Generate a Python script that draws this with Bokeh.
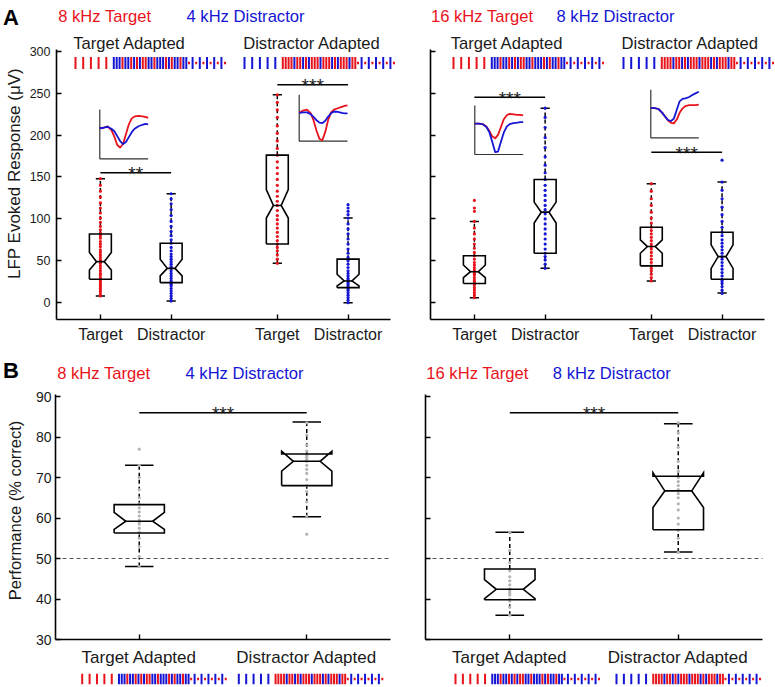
from bokeh.plotting import figure
from bokeh.models import FixedTicker, Label, Range1d
from bokeh.layouts import column, row
from bokeh.embed import file_html
from bokeh.resources import INLINE

FONT = "Liberation Sans"
RED = "#e8131b"
BLUE = "#1515d4"
INK = "#1a1a1a"
GREY_PT = "#b4b4b4"

# ------------------------------------------------------------------ data
A_POSITIONS = [1.0, 2.0, 3.5, 4.5]
A_TICK_LABELS = ["Target", "Distractor", "Target", "Distractor"]
A_TONES = ["T", "D", "T", "D"]
A_Y_TICKS = [0, 50, 100, 150, 200, 250, 300]
A_Y_BOUNDS = (-20, 302)
A_X_BOUNDS = (0.38, 5.1)

# Panel A left: 8 kHz target / 4 kHz distractor
AL_Q1 = [28, 24, 70, 18]
AL_MED = [49, 41, 116, 26]
AL_Q3 = [82, 71, 176, 52]
AL_NOTCH_LO = [39, 32, 101, 20]
AL_NOTCH_HI = [60, 52, 135, 34]
AL_WHISK_LO = [8, 2, 47, 0]
AL_WHISK_HI = [148, 130, 248, 101]
AL_PTS = [
    [8, 10, 13, 15, 17, 19, 21, 23, 25, 27, 28, 30, 33, 35, 38, 41, 44, 47, 49, 51, 54, 57, 60, 63,
     67, 70, 73, 77, 80, 83, 87, 91, 96, 101, 107, 113, 119, 126, 133, 140, 148],
    [2, 5, 8, 11, 14, 17, 20, 22, 24, 26, 29, 32, 35, 38, 41, 43, 46, 49, 52, 55, 58, 62, 66, 71,
     75, 80, 85, 91, 97, 104, 111, 118, 124, 130],
    [47, 52, 57, 62, 66, 70, 74, 79, 84, 89, 94, 99, 104, 110, 116, 121, 127, 133, 140, 147, 154,
     161, 168, 176, 184, 193, 202, 211, 221, 230, 239, 248],
    [0, 3, 6, 9, 12, 15, 17, 19, 21, 23, 25, 27, 29, 32, 35, 38, 42, 46, 50, 54, 59, 64, 70, 76,
     82, 88, 94, 101, 105, 109, 113, 117],
]
AL_SIG_X0 = [1.0, 3.5]
AL_SIG_X1 = [2.0, 4.5]
AL_SIG_Y = [155, 260]
AL_SIG_TEXT = ["**", "***"]

# Panel A right: 16 kHz target / 8 kHz distractor
AR_Q1 = [23, 59, 44, 28]
AR_MED = [37, 108, 67, 55]
AR_Q3 = [56, 147, 90, 84]
AR_NOTCH_LO = [30, 95, 59, 41]
AR_NOTCH_HI = [45, 120, 75, 69]
AR_WHISK_LO = [6, 41, 26, 11.5]
AR_WHISK_HI = [97, 232, 142, 144]
AR_PTS = [
    [6, 9, 12, 15, 18, 21, 23, 25, 27, 30, 33, 35, 37, 39, 42, 45, 48, 52, 56, 60, 65, 70, 76, 82,
     89, 97, 109, 113, 122],
    [41, 46, 51, 55, 59, 64, 70, 76, 82, 88, 94, 100, 106, 111, 116, 122, 128, 134, 140, 147, 155,
     164, 174, 185, 197, 209, 221, 232],
    [26, 30, 34, 38, 41, 44, 48, 52, 56, 60, 64, 67, 70, 74, 78, 82, 86, 90, 95, 101, 108, 116, 124,
     133, 142],
    [11, 15, 19, 23, 26, 28, 32, 36, 40, 44, 48, 52, 55, 59, 63, 67, 71, 75, 80, 84, 90, 97, 105,
     114, 124, 134, 144, 170],
]
AR_SIG_X0 = [1.0, 3.5]
AR_SIG_X1 = [2.0, 4.5]
AR_SIG_Y = [245, 179.5]
AR_SIG_TEXT = ["***", "***"]

# inset waveforms (normalised amplitude, 0 = inset floor, 1 = inset top)
WAVE_T = [0, .08, .16, .24, .30, .36, .42, .48, .54, .60, .66, .72, .80, .88, .94, 1.0]
AL_TA_WAVE_T = [.62, .63, .66, .58, .45, .28, .23, .30, .50, .70, .82, .86, .87, .86, .85, .83]
AL_TA_WAVE_D = [.62, .63, .65, .61, .56, .46, .36, .30, .34, .44, .54, .61, .66, .69, .71, .70]
AL_DA_WAVE_T = [.61, .66, .68, .60, .44, .22, .05, .02, .20, .46, .62, .68, .71, .74, .76, .77]
AL_DA_WAVE_D = [.61, .62, .62, .58, .52, .45, .40, .39, .44, .53, .60, .64, .63, .61, .60, .60]
AR_TA_WAVE_T = [.63, .63, .62, .57, .48, .37, .33, .40, .56, .72, .80, .83, .82, .81, .81, .80]
AR_TA_WAVE_D = [.63, .63, .62, .56, .46, .26, .05, .06, .26, .45, .57, .62, .64, .65, .66, .66]
AR_DA_WAVE_T = [.625, .62, .60, .52, .44, .36, .31, .30, .38, .52, .61, .66, .68, .68, .68, .69]
AR_DA_WAVE_D = [.625, .62, .60, .52, .44, .37, .35, .40, .58, .76, .81, .82, .85, .90, .93, .96]

# Panel B: behavioural performance
B_POSITIONS = [1.0, 2.0]
B_TICK_LABELS = ["Target Adapted", "Distractor Adapted"]
B_Y_TICKS = [30, 40, 50, 60, 70, 80, 90]
B_Y_BOUNDS = (30, 90.5)
B_X_BOUNDS = (0.5, 2.5)
B_CHANCE = 50
BL_Q1 = [56.3, 68.0]
BL_MED = [59.2, 74.0]
BL_Q3 = [63.3, 75.8]
BL_NOTCH_LO = [57.2, 71.6]
BL_NOTCH_HI = [61.4, 76.5]
BL_WHISK_LO = [48.0, 60.3]
BL_WHISK_HI = [73.0, 83.7]
BL_PTS = [
    [48, 50.5, 53, 55, 56.5, 57.5, 58.5, 59, 59.5, 60.5, 61.5, 62.5, 63.5, 65, 67, 70, 73, 77],
    [56, 60.5, 64, 66.5, 68, 69.5, 71, 72, 73, 74, 74.5, 75, 75.5, 76.5, 78, 80.5, 83.5],
]
BR_Q1 = [39.8, 57.1]
BR_MED = [42.4, 66.7]
BR_Q3 = [47.4, 70.3]
BR_NOTCH_LO = [40.1, 62.6]
BR_NOTCH_HI = [44.8, 71.2]
BR_WHISK_LO = [36.0, 51.6]
BR_WHISK_HI = [56.5, 83.3]
BR_PTS = [
    [36, 38, 39.5, 40, 41, 41.5, 42, 42.5, 43.5, 44.5, 45.5, 47, 49, 52, 56.5],
    [51.5, 55, 57, 58.5, 60, 62, 63.5, 65, 66, 67, 68, 69, 70, 71.5, 74, 77.5, 81, 83.5],
]
B_SIG_X0 = [1.0]
B_SIG_X1 = [2.0]
B_SIG_Y = [86]
B_SIG_TEXT = ["***"]

# stimulus sequences: R/B = target/distractor tone, upper case = full tick, lower case = short
SEQ_ADAPT_TA = "RRRRR"
SEQ_ADAPT_DA = "BBBBB"
SEQ_MIX_TA = "BBBRBBRBRBRRBBRBBBRBRBBRBB"
SEQ_MIX_DA = "RRRRBRRBRBRRRBRRRBRBRRRBRR"
SEQ_PROBE = "rBrBrBrBrBr"

# ------------------------------------------------------------------ layout (pixels)
A_PX_X = 70.77      # px per x unit, panel A
A_PX_Y = 0.8385     # px per uV, panel A
BL_PX_X = 167.5
BR_PX_X = 168.5
B_PX_Y = 4.05

# frame: (left, right, top, bottom, x_range, y_range)
FR_LA = (0, 26, 0, 349, (0, 26), (0, 349))
FR_AL = (55, 409, 0, 319, (0.38, 0.38 + 354 / A_PX_X), (-20, -20 + 319 / A_PX_Y))
FR_AR = (429, 775, 0, 319, (0.38, 0.38 + 346 / A_PX_X), (-20, -20 + 319 / A_PX_Y))
FR_LB = (0, 26, 349, 670, (0, 26), (0, 321))
FR_BL = (55, 410, 349, 639, (0.5, 0.5 + 355 / BL_PX_X), (30, 30 + 290 / B_PX_Y))
FR_BR = (425, 775, 349, 639, (0.5, 0.5 + 350 / BR_PX_X), (30, 30 + 290 / B_PX_Y))
FR_FL = (0, 410, 670, 686, (0, 410), (0, 16))
FR_FR = (410, 775, 670, 686, (410, 775), (0, 16))


def dx(fr, xi):
    x0, x1, _, _, xr, _ = fr
    return xr[0] + (xi - x0) / (x1 - x0) * (xr[1] - xr[0])


def dy(fr, yi):
    _, _, y0, y1, _, yr = fr
    return yr[0] + (y1 - yi) / (y1 - y0) * (yr[1] - yr[0])


def py(fr, pix):
    _, _, y0, y1, _, yr = fr
    return pix * (yr[1] - yr[0]) / (y1 - y0)


def make_fig(fr, bl=0, br=0, bt=0, bb=0, axes=True):
    x0, x1, y0, y1, xr, yr = fr
    kw = {}
    if not axes:
        kw = dict(x_axis_location=None, y_axis_location=None)
    p = figure(frame_width=x1 - x0, frame_height=y1 - y0,
               x_range=Range1d(*xr), y_range=Range1d(*yr),
               min_border_left=bl, min_border_right=br, min_border_top=bt, min_border_bottom=bb,
               output_backend="svg", toolbar_location=None, tools="", **kw)
    p.xgrid.visible = False
    p.ygrid.visible = False
    p.outline_line_color = None
    p.background_fill_color = "white"
    p.border_fill_color = "white"
    if axes:
        for ax in (p.xaxis[0], p.yaxis[0]):
            ax.axis_line_width = 1.6
            ax.axis_line_color = "black"
            ax.major_tick_in = 5
            ax.major_tick_out = 0
            ax.major_tick_line_width = 1.4
            ax.major_tick_line_color = "black"
            ax.minor_tick_line_color = None
            ax.major_label_text_font = FONT
            ax.major_label_text_color = INK
    return p


def text(p, x, y, s, size, color=INK, align="left", baseline="middle", style="normal", angle=0):
    p.add_layout(Label(x=x, y=y, text=s, text_font=FONT, text_font_size=size, text_color=color,
                       text_align=align, text_baseline=baseline, text_font_style=style,
                       angle=angle, angle_units="deg"))


def draw_boxes(p, pos, q1, med, q3, nlo, nhi, w, nw, lw):
    xs, ys = [], []
    for x, a, m, b, nl, nh in zip(pos, q1, med, q3, nlo, nhi):
        xs.append([x - w, x - w, x - nw, x - w, x - w, x + w, x + w, x + nw, x + w, x + w, x - w])
        ys.append([a, nl, m, nh, b, b, nh, m, nl, a, a])
    p.multi_line(xs, ys, line_color="black", line_width=lw, line_join="miter")
    p.segment(x0=[x - nw for x in pos], y0=med, x1=[x + nw for x in pos], y1=med,
              line_color="black", line_width=lw)


def draw_whiskers(p, pos, q1, q3, wlo, whi, cw, lw):
    p.segment(x0=pos, y0=q3, x1=pos, y1=whi, line_color="black", line_width=lw, line_dash="4 3")
    p.segment(x0=pos, y0=wlo, x1=pos, y1=q1, line_color="black", line_width=lw, line_dash="4 3")
    p.segment(x0=[x - cw for x in pos], y0=whi, x1=[x + cw for x in pos], y1=whi,
              line_color="black", line_width=lw)
    p.segment(x0=[x - cw for x in pos], y0=wlo, x1=[x + cw for x in pos], y1=wlo,
              line_color="black", line_width=lw)


def draw_points(p, pos, pts, colors, size):
    for x, vals, c in zip(pos, pts, colors):
        p.scatter(x=[x] * len(vals), y=vals, marker="circle", size=size, fill_color=c,
                  line_color=None)


def draw_sig(p, fr, x0s, x1s, ys, texts):
    p.segment(x0=x0s, y0=ys, x1=x1s, y1=ys, line_color="black", line_width=1.5)
    for a, b, y, s in zip(x0s, x1s, ys, texts):
        text(p, (a + b) / 2, y - py(fr, 1.0), s, "19px", align="center")


def draw_inset(p, fr, box, wave_t, wave_d):
    xl, xr_, yt, yb = box
    p.line([dx(fr, xl), dx(fr, xl), dx(fr, xr_)], [dy(fr, yt), dy(fr, yb), dy(fr, yb)],
           line_color="#333333", line_width=1.2)
    xs = [dx(fr, xl + t * (xr_ - xl)) for t in WAVE_T]
    for wave, col in ((wave_t, RED), (wave_d, BLUE)):
        ys = [dy(fr, yb - a * (yb - yt)) for a in wave]
        p.line(xs, ys, line_color=col, line_width=1.8, line_join="round")


def draw_sequence(p, fr, x_img, yc_img, adapt, mix, probe, scale, half_tall, half_short):
    items = []
    x = x_img
    for i, c in enumerate(adapt):
        if i:
            x += 7.7 * scale
        items.append((x, c))
    x += 7.5 * scale
    for i, c in enumerate(mix):
        if i:
            x += 2.9 * scale
        items.append((x, c))
    x += 2.7 * scale
    for i, c in enumerate(probe):
        if i:
            x += 3.6 * scale
        items.append((x, c))
    xs = [dx(fr, xx) for xx, _ in items]
    hs = [half_tall if c.isupper() else half_short for _, c in items]
    cols = [RED if c.lower() == "r" else BLUE for _, c in items]
    p.segment(x0=xs, y0=[dy(fr, yc_img + h) for h in hs], x1=xs,
              y1=[dy(fr, yc_img - h) for h in hs], line_color=cols, line_width=2)


TONE_COLOR = {"T": RED, "D": BLUE}


# ------------------------------------------------------------------ side columns
def side_column(fr, letter, letter_y, ylabel, ylabel_y, ylabel_size):
    p = make_fig(fr, axes=False)
    text(p, dx(fr, 2.6), dy(fr, letter_y), letter, "22px", color="black", style="bold")
    text(p, dx(fr, 14.0), dy(fr, ylabel_y), ylabel, ylabel_size, align="center", angle=90)
    return p


pLA = side_column(FR_LA, "A", 16.5, "LFP Evoked Response (\u03bcV)", 173, "17px")
pLB = side_column(FR_LB, "B", 369.7, "Performance (% correct)", 510, "16.5px")


# ------------------------------------------------------------------ panel A
def panel_a(fr, bl, stats, pts, sig, insets, show_labels, headers, seq_x):
    p = make_fig(fr, bl, 0, 0, 30)
    q1, med, q3, nlo, nhi, wlo, whi = stats
    p.xaxis.ticker = FixedTicker(ticks=A_POSITIONS)
    p.xaxis.bounds = A_X_BOUNDS
    p.xaxis.major_label_overrides = {k: v for k, v in zip(A_POSITIONS, A_TICK_LABELS)}
    p.xaxis.major_label_text_font_size = "16px"
    p.xaxis.major_label_standoff = 6
    p.yaxis.ticker = FixedTicker(ticks=A_Y_TICKS)
    p.yaxis.bounds = A_Y_BOUNDS
    if show_labels:
        p.yaxis.major_label_text_font_size = "12.5px"
        p.yaxis.major_label_standoff = 6
    else:
        p.yaxis.major_label_text_font_size = "1px"
        p.yaxis.major_label_text_color = None
        p.yaxis.major_label_standoff = 0
    draw_whiskers(p, A_POSITIONS, q1, q3, wlo, whi, 0.065, 1.5)
    draw_points(p, A_POSITIONS, pts, [TONE_COLOR[t] for t in A_TONES], 3.2)
    draw_boxes(p, A_POSITIONS, q1, med, q3, nlo, nhi, 0.155, 0.055, 1.6)
    draw_sig(p, fr, *sig)
    for box, wt, wd in insets:
        draw_inset(p, fr, box, wt, wd)
    for (xi, yi, s, col) in headers:
        text(p, dx(fr, xi), dy(fr, yi), s, "16.6px", color=col)
    draw_sequence(p, fr, seq_x[0], 62.5, SEQ_ADAPT_TA, SEQ_MIX_TA, SEQ_PROBE, 1.0, 6.0, 1.3)
    draw_sequence(p, fr, seq_x[1], 62.5, SEQ_ADAPT_DA, SEQ_MIX_DA, SEQ_PROBE, 1.0, 6.0, 1.3)
    return p


pAL = panel_a(FR_AL, 29,
              (AL_Q1, AL_MED, AL_Q3, AL_NOTCH_LO, AL_NOTCH_HI, AL_WHISK_LO, AL_WHISK_HI),
              AL_PTS, (AL_SIG_X0, AL_SIG_X1, AL_SIG_Y, AL_SIG_TEXT),
              [((98.3, 146.7, 109, 158.3), AL_TA_WAVE_T, AL_TA_WAVE_D),
               ((297.7, 346, 94.3, 140.7), AL_DA_WAVE_T, AL_DA_WAVE_D)],
              True,
              [(56.7, 15.7, "8 kHz Target", RED),
               (185, 15.7, "4 kHz Distractor", BLUE),
               (71.7, 43, "Target Adapted", INK),
               (241.7, 43, "Distractor Adapted", INK)],
              (74, 243))

pAR = panel_a(FR_AR, 20,
              (AR_Q1, AR_MED, AR_Q3, AR_NOTCH_LO, AR_NOTCH_HI, AR_WHISK_LO, AR_WHISK_HI),
              AR_PTS, (AR_SIG_X0, AR_SIG_X1, AR_SIG_Y, AR_SIG_TEXT),
              [((473.3, 521.7, 105, 154), AR_TA_WAVE_T, AR_TA_WAVE_D),
               ((649.3, 697.3, 89.3, 137.3), AR_DA_WAVE_T, AR_DA_WAVE_D)],
              False,
              [(429.5, 15.7, "16 kHz Target", RED),
               (555, 15.7, "8 kHz Distractor", BLUE),
               (449.3, 43, "Target Adapted", INK),
               (620, 43, "Distractor Adapted", INK)],
              (452, 622))


# ------------------------------------------------------------------ panel B
def panel_b(fr, bl, stats, pts, show_labels, headers):
    p = make_fig(fr, bl, 0, 0, 31)
    q1, med, q3, nlo, nhi, wlo, whi = stats
    p.xaxis.ticker = FixedTicker(ticks=B_POSITIONS)
    p.xaxis.bounds = B_X_BOUNDS
    p.xaxis.major_label_overrides = {k: v for k, v in zip(B_POSITIONS, B_TICK_LABELS)}
    p.xaxis.major_label_text_font_size = "17px"
    p.xaxis.major_label_standoff = 8
    p.yaxis.ticker = FixedTicker(ticks=B_Y_TICKS)
    p.yaxis.bounds = B_Y_BOUNDS
    if show_labels:
        p.yaxis.major_label_text_font_size = "14px"
        p.yaxis.major_label_standoff = 4
    else:
        p.yaxis.major_label_text_font_size = "1px"
        p.yaxis.major_label_text_color = None
        p.yaxis.major_label_standoff = 0
    p.segment(x0=[B_X_BOUNDS[0]], y0=[B_CHANCE], x1=[B_X_BOUNDS[1]], y1=[B_CHANCE],
              line_color="#555555", line_dash="4 3", line_width=1.1)
    draw_whiskers(p, B_POSITIONS, q1, q3, wlo, whi, 0.085, 1.5)
    draw_points(p, B_POSITIONS, pts, [GREY_PT, GREY_PT], 3.2)
    draw_boxes(p, B_POSITIONS, q1, med, q3, nlo, nhi, 0.15, 0.08, 1.6)
    draw_sig(p, fr, B_SIG_X0, B_SIG_X1, B_SIG_Y, B_SIG_TEXT)
    for (xi, yi, s, col) in headers:
        text(p, dx(fr, xi), dy(fr, yi), s, "16.6px", color=col)
    return p


pBL = panel_b(FR_BL, 29,
              (BL_Q1, BL_MED, BL_Q3, BL_NOTCH_LO, BL_NOTCH_HI, BL_WHISK_LO, BL_WHISK_HI),
              BL_PTS, True,
              [(56.7, 373.3, "8 kHz Target", RED),
               (185, 373.3, "4 kHz Distractor", BLUE)])

pBR = panel_b(FR_BR, 15,
              (BR_Q1, BR_MED, BR_Q3, BR_NOTCH_LO, BR_NOTCH_HI, BR_WHISK_LO, BR_WHISK_HI),
              BR_PTS, False,
              [(425.8, 373.0, "16 kHz Target", RED),
               (552.3, 373.0, "8 kHz Distractor", BLUE)])


# ------------------------------------------------------------------ footer (stimulus sequences of B)
def footer(fr, seq_x):
    p = make_fig(fr, axes=False)
    draw_sequence(p, fr, seq_x[0], 678.5, SEQ_ADAPT_TA, SEQ_MIX_TA, SEQ_PROBE, 0.96, 5.3, 1.2)
    draw_sequence(p, fr, seq_x[1], 678.5, SEQ_ADAPT_DA, SEQ_MIX_DA, SEQ_PROBE, 0.96, 5.3, 1.2)
    return p


pFL = footer(FR_FL, (81.7, 238.3))
pFR = footer(FR_FR, (455, 616))

layout = column(row(pLA, pAL, pAR), row(pLB, pBL, pBR), row(pFL, pFR))
open("out.html", "w").write(file_html(layout, INLINE))
